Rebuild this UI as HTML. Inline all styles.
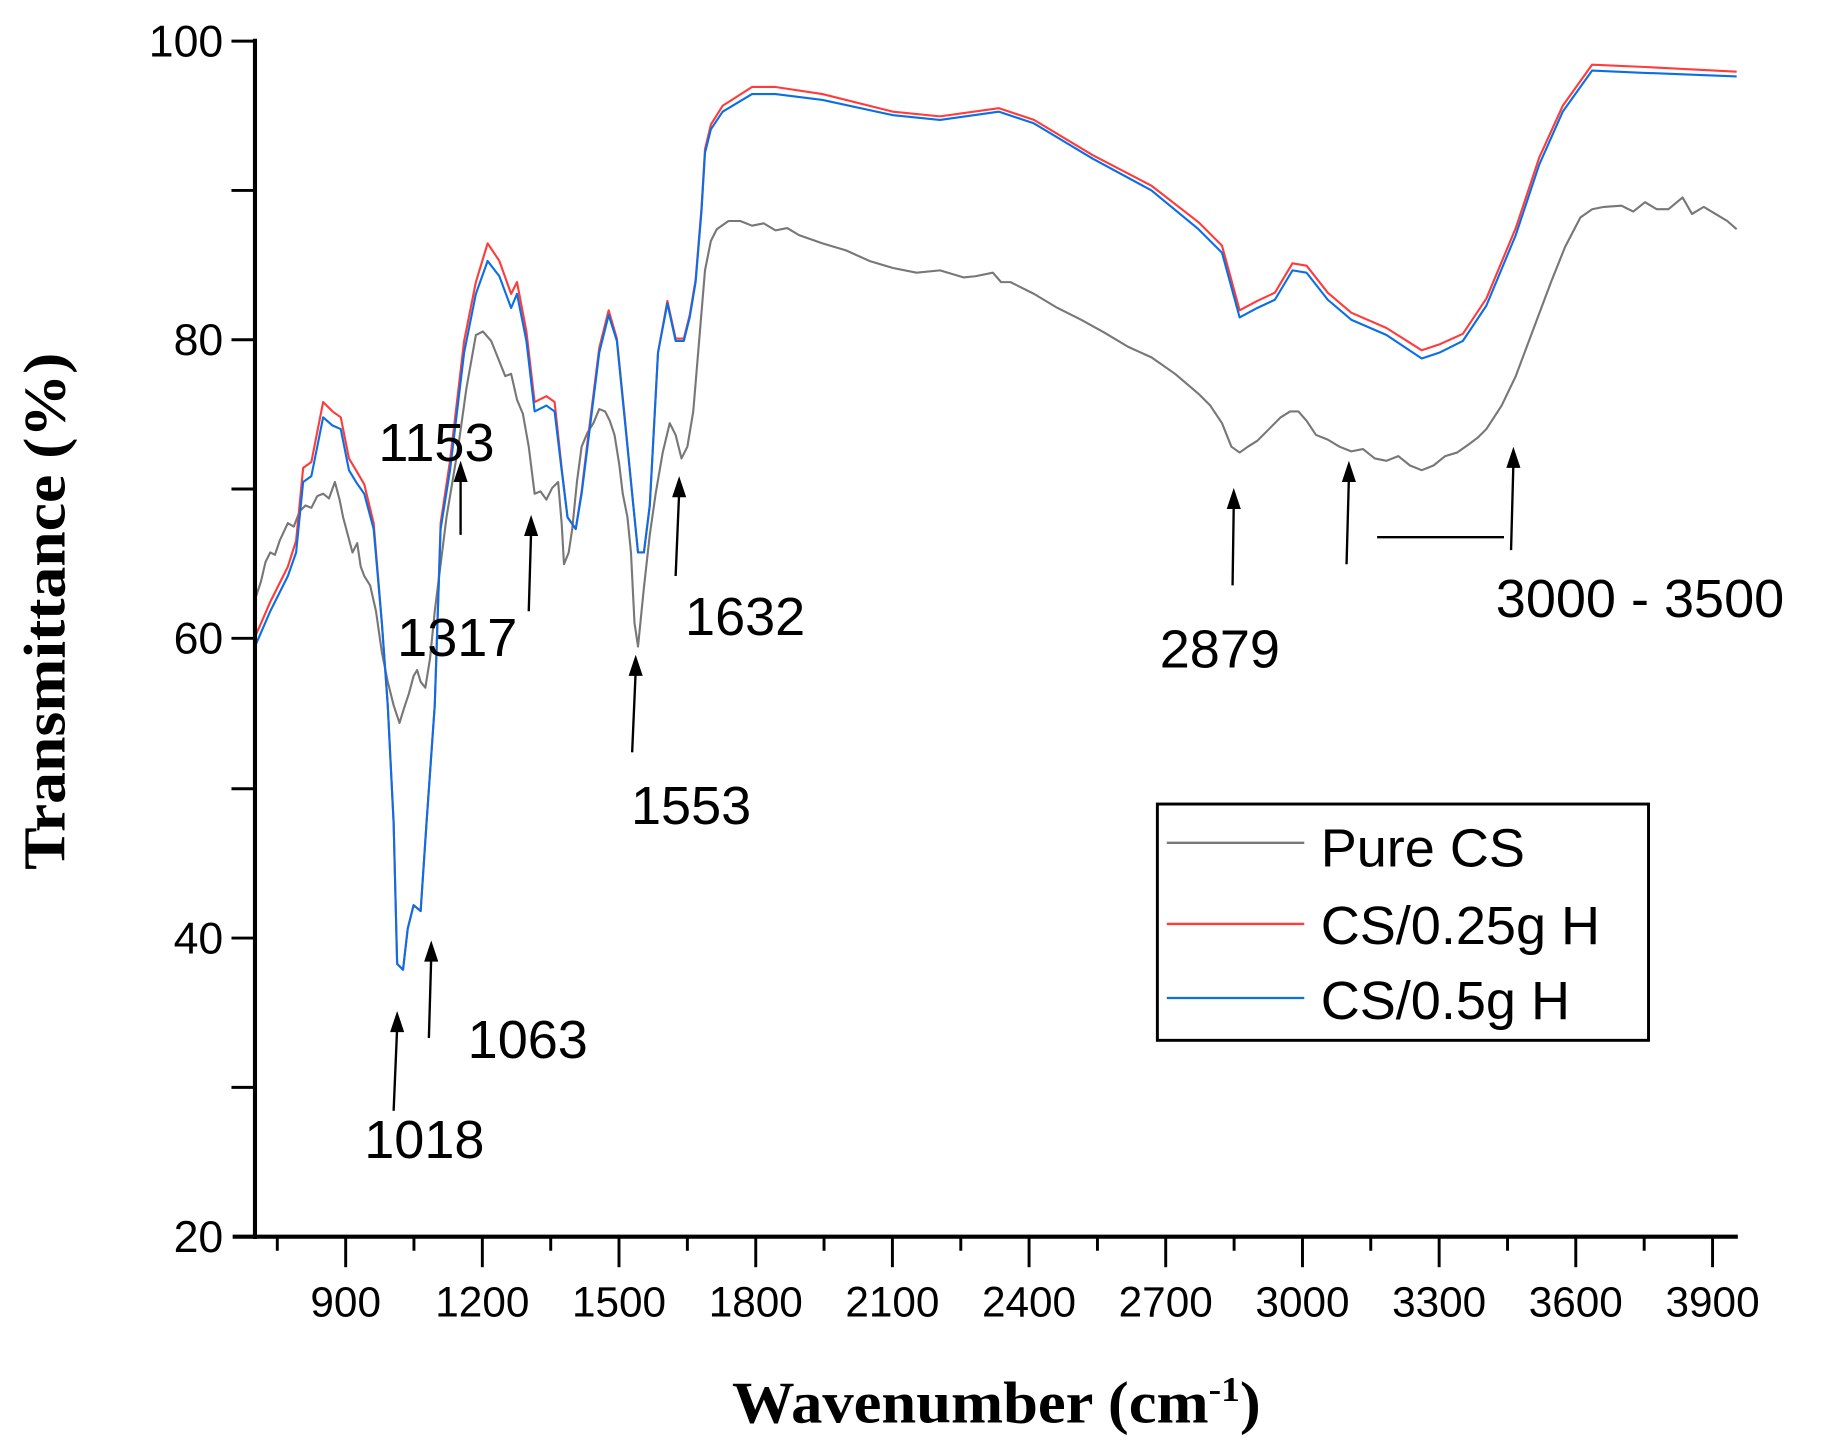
<!DOCTYPE html>
<html><head><meta charset="utf-8"><style>
html,body{margin:0;padding:0;background:#fff;}
svg{display:block;}
</style></head><body>
<svg width="1833" height="1440" viewBox="0 0 1560 1225" preserveAspectRatio="none" xmlns="http://www.w3.org/2000/svg">
<rect width="1560" height="1225" fill="#fff"/>
<g fill="none" stroke-width="1.8" stroke-linejoin="round">
<polyline stroke="#777" points="217,510 222,495 226,478 230,470 234,472 238,460 245,445 250,448 255,435 260,430 265,432 270,422 275,420 280,424 285,410 289,425 292,440 296,455 300,470 304,462 307,482 310,490 315,498 320,520 325,555 330,580 335,600 340,615 344,602 348,590 352,575 355,570 358,580 362,585 366,560 370,520 375,480 380,440 385,410 390,380 397,330 405,285 411,282 418,290 424,305 430,320 435,318 440,340 445,352 450,380 455,420 460,418 465,425 470,415 475,410 478,445 480,480 484,470 487,450 491,410 495,380 500,368 505,360 510,348 515,350 519,358 523,370 527,395 530,420 534,440 537,470 540,530 543,550 546,520 548,500 553,455 558,420 564,385 570,360 575,370 580,390 585,380 590,350 595,290 600,230 605,205 610,195 620,188 630,188 640,192 650,190 660,196 670,194 680,200 700,207 720,213 740,222 760,228 780,232 800,230 820,236 830,235 845,232 852,240 860,240 880,250 900,262 920,272 940,283 960,295 980,304 1000,318 1020,335 1030,345 1040,360 1048,380 1055,385 1062,380 1070,375 1080,365 1090,355 1098,350 1105,350 1112,358 1120,370 1130,374 1140,380 1150,384 1160,382 1170,390 1180,392 1190,388 1200,396 1210,400 1220,396 1230,388 1240,385 1250,378 1258,372 1265,365 1278,345 1290,320 1305,280 1320,240 1332,210 1345,185 1355,178 1365,176 1380,175 1390,180 1400,172 1410,178 1420,178 1432,168 1440,182 1450,176 1460,182 1470,188 1478,195"/>
<polyline stroke="#ff3b3b" points="217,542 230,512 245,482 252,460 258,398 265,393 275,342 283,350 290,355 297,390 303,400 310,412 318,445 325,530 330,600 335,700 338,820 343,825 347,790 352,770 358,775 363,700 370,600 375,445 383,392 395,290 405,240 415,207 425,222 435,250 440,240 448,282 455,342 465,337 472,342 478,398 483,440 490,450 495,418 500,376 510,296 518,264 525,288 532,358 538,420 543,470 548,470 553,430 560,300 568,256 575,288 582,288 587,268 592,238 597,177 600,127 605,106 615,90 640,74 660,74 700,80 760,95 800,99 850,92 880,102 930,132 980,158 1020,189 1040,209 1055,264 1070,256 1085,249 1100,224 1112,226 1130,249 1150,266 1180,279 1210,298 1225,293 1245,284 1265,254 1290,194 1310,134 1330,90 1355,55 1400,57 1478,61"/>
<polyline stroke="#0a6fe6" points="217,550 230,520 245,490 252,470 258,410 265,405 275,355 283,362 290,365 297,400 303,410 310,420 318,450 325,530 330,600 335,700 338,820 343,825 347,790 352,770 358,775 363,700 370,600 375,450 383,400 395,300 405,250 415,222 425,235 435,262 440,250 448,290 455,350 465,345 472,350 478,400 483,440 490,450 495,420 500,380 510,300 518,268 525,290 532,360 538,420 543,470 548,470 553,430 560,300 568,258 575,290 582,290 587,270 592,240 597,180 600,130 605,110 615,95 640,80 660,80 700,85 760,98 800,102 850,95 880,105 930,135 980,162 1020,195 1040,215 1055,270 1070,262 1085,255 1100,230 1112,232 1130,255 1150,272 1180,285 1210,305 1225,300 1245,290 1265,260 1290,200 1310,140 1330,95 1355,60 1400,62 1478,65"/>
</g>
<g stroke="#000" fill="none">
<line x1="217" y1="33" x2="217" y2="1054" stroke-width="3.5"/>
<line x1="198" y1="1052" x2="1479" y2="1052" stroke-width="3.5"/>
<g stroke-width="2.5">
<line x1="197" y1="35" x2="217" y2="35"/><line x1="197" y1="162" x2="217" y2="162"/>
<line x1="197" y1="289" x2="217" y2="289"/><line x1="197" y1="416" x2="217" y2="416"/>
<line x1="197" y1="543" x2="217" y2="543"/><line x1="197" y1="671" x2="217" y2="671"/>
<line x1="197" y1="798" x2="217" y2="798"/><line x1="197" y1="925" x2="217" y2="925"/>
<line x1="236" y1="1052" x2="236" y2="1064"/><line x1="294.2" y1="1052" x2="294.2" y2="1078"/>
<line x1="352.3" y1="1052" x2="352.3" y2="1064"/><line x1="410.5" y1="1052" x2="410.5" y2="1078"/>
<line x1="468.7" y1="1052" x2="468.7" y2="1064"/><line x1="526.8" y1="1052" x2="526.8" y2="1078"/>
<line x1="585" y1="1052" x2="585" y2="1064"/><line x1="643.2" y1="1052" x2="643.2" y2="1078"/>
<line x1="701.3" y1="1052" x2="701.3" y2="1064"/><line x1="759.5" y1="1052" x2="759.5" y2="1078"/>
<line x1="817.7" y1="1052" x2="817.7" y2="1064"/><line x1="875.8" y1="1052" x2="875.8" y2="1078"/>
<line x1="934" y1="1052" x2="934" y2="1064"/><line x1="992.1" y1="1052" x2="992.1" y2="1078"/>
<line x1="1050.3" y1="1052" x2="1050.3" y2="1064"/><line x1="1108.5" y1="1052" x2="1108.5" y2="1078"/>
<line x1="1166.6" y1="1052" x2="1166.6" y2="1064"/><line x1="1224.8" y1="1052" x2="1224.8" y2="1078"/>
<line x1="1283" y1="1052" x2="1283" y2="1064"/><line x1="1341.1" y1="1052" x2="1341.1" y2="1078"/>
<line x1="1399.3" y1="1052" x2="1399.3" y2="1064"/><line x1="1457.5" y1="1052" x2="1457.5" y2="1078"/>
</g>
</g>
<g font-family="Liberation Sans, sans-serif" font-size="38" fill="#000" text-anchor="end">
<text x="190" y="48">100</text><text x="190" y="302">80</text><text x="190" y="556">60</text>
<text x="190" y="811">40</text><text x="190" y="1065">20</text>
</g>
<g font-family="Liberation Sans, sans-serif" font-size="36" fill="#000" text-anchor="middle">
<text x="294.2" y="1120">900</text><text x="410.5" y="1120">1200</text><text x="526.8" y="1120">1500</text>
<text x="643.2" y="1120">1800</text><text x="759.5" y="1120">2100</text><text x="875.8" y="1120">2400</text>
<text x="992.1" y="1120">2700</text><text x="1108.5" y="1120">3000</text><text x="1224.8" y="1120">3300</text>
<text x="1341.1" y="1120">3600</text><text x="1457.5" y="1120">3900</text>
</g>
<text x="848" y="1210" font-family="Liberation Serif, serif" font-weight="bold" font-size="50" text-anchor="middle" textLength="450" lengthAdjust="spacingAndGlyphs">Wavenumber (cm<tspan dy="-18" font-size="30">-1</tspan><tspan dy="18">)</tspan></text>
<text transform="translate(55,520) rotate(-90)" font-family="Liberation Serif, serif" font-weight="bold" font-size="50" text-anchor="middle" textLength="440" lengthAdjust="spacingAndGlyphs">Transmittance (%)</text>
<g font-family="Liberation Sans, sans-serif" font-size="46" fill="#000">
<text x="322" y="392">1153</text><text x="338" y="558">1317</text>
<text x="310" y="985">1018</text><text x="398" y="900">1063</text>
<text x="537" y="701">1553</text><text x="583" y="540">1632</text>
<text x="987" y="568">2879</text><text x="1273" y="525">3000 - 3500</text>
</g>
<g stroke="#000" stroke-width="2">
<line x1="392" y1="455" x2="392" y2="406"/><line x1="450" y1="520" x2="452" y2="452"/>
<line x1="335" y1="945" x2="338" y2="874"/><line x1="365" y1="883" x2="367" y2="814"/>
<line x1="538" y1="640" x2="541" y2="571"/><line x1="575" y1="490" x2="578" y2="419"/>
<line x1="1049" y1="498" x2="1050" y2="429"/><line x1="1146" y1="480" x2="1148" y2="406"/>
<line x1="1286" y1="468" x2="1288" y2="394"/>
<line x1="1172" y1="457" x2="1280" y2="457"/>
</g>
<g fill="#000">
<path d="M386,410 L392,392 L398,410 Z"/><path d="M446,456 L452,438 L458,456 Z"/>
<path d="M332,878 L338,860 L344,878 Z"/><path d="M361,818 L367,800 L373,818 Z"/>
<path d="M535,575 L541,557 L547,575 Z"/><path d="M572,423 L578,405 L584,423 Z"/>
<path d="M1044,433 L1050,415 L1056,433 Z"/><path d="M1142,410 L1148,392 L1154,410 Z"/>
<path d="M1282,398 L1288,380 L1294,398 Z"/>
</g>
<rect x="985" y="684" width="418" height="201" fill="#fff" stroke="#000" stroke-width="2.5"/>
<line x1="993" y1="717" x2="1110" y2="717" stroke="#777" stroke-width="2"/>
<line x1="993" y1="786" x2="1110" y2="786" stroke="#ff3b3b" stroke-width="2"/>
<line x1="993" y1="849" x2="1110" y2="849" stroke="#0a6fe6" stroke-width="2"/>
<g font-family="Liberation Sans, sans-serif" font-size="46" fill="#000">
<text x="1124" y="737">Pure CS</text><text x="1124" y="803">CS/0.25g H</text><text x="1124" y="867">CS/0.5g H</text>
</g>
</svg>
</body></html>
